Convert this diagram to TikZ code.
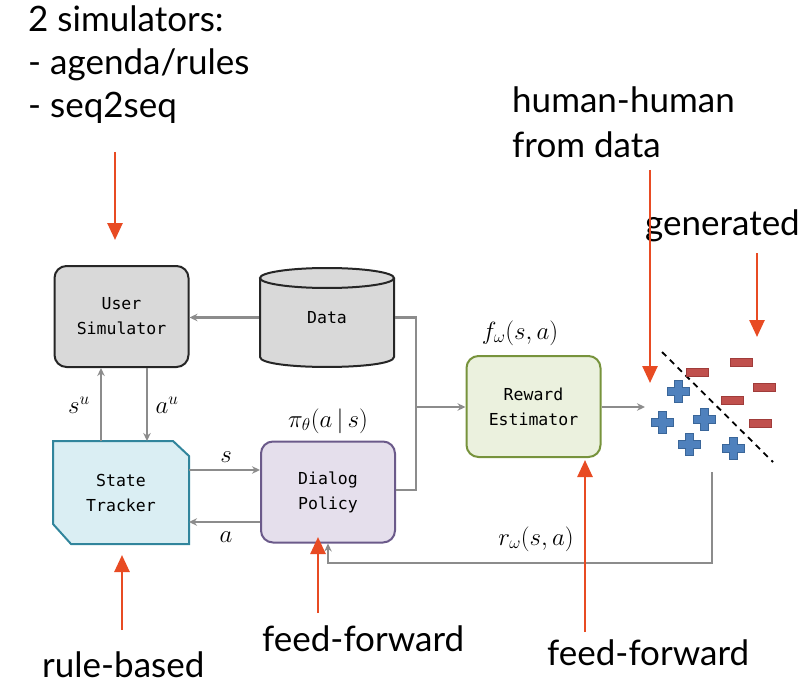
\documentclass[tikz,border=0pt]{standalone}
\usepackage{fontspec}
\setmainfont{Lato}
\newfontfamily\boxfont{DejaVu Sans Mono}
\usetikzlibrary{arrows.meta}
\definecolor{garr}{HTML}{8C8C8C}
\definecolor{redarr}{HTML}{E84B23}
\definecolor{usfill}{HTML}{D9D9D9}
\definecolor{stfill}{HTML}{DAEEF3}
\definecolor{stdraw}{HTML}{31859C}
\definecolor{dpfill}{HTML}{E5DFEC}
\definecolor{dpdraw}{HTML}{6B5A8A}
\definecolor{refill}{HTML}{EBF1DE}
\definecolor{redraw}{HTML}{77933C}
\definecolor{plusfill}{HTML}{4F81BD}
\definecolor{plusdraw}{HTML}{3A6699}
\definecolor{minusfill}{HTML}{C0504D}
\definecolor{minusdraw}{HTML}{A03C3A}
\begin{document}
\begin{tikzpicture}[x=1pt,y=-1pt,
  box/.style={line width=2pt, rounded corners=12pt, minimum width=134pt, minimum height=101pt, align=center, font=\boxfont\fontsize{16.5}{25}\selectfont, inner sep=0pt},
  garrow/.style={draw=garr, line width=2.1pt, -{Stealth[length=8pt,width=7.5pt]}},
  gline/.style={draw=garr, line width=2.1pt},
  rarrow/.style={draw=redarr, line width=2.6pt, -{Triangle[length=17pt,width=15pt]}},
  lbl/.style={font=\fontsize{35}{42}\selectfont, anchor=base west, inner sep=0pt},
  mlbl/.style={font=\fontsize{25}{30}\selectfont, inner sep=0pt},
  plussign/.pic={\filldraw[fill=plusfill, draw=plusdraw, line width=0.8pt]
     (-11,-4)--(-4,-4)--(-4,-11)--(4,-11)--(4,-4)--(11,-4)--(11,4)--(4,4)--(4,11)--(-4,11)--(-4,4)--(-11,4)--cycle;},
  minussign/.pic={\filldraw[fill=minusfill, draw=minusdraw, line width=0.8pt] (-11,-4) rectangle (11,4);}
]
\useasboundingbox (0,0) rectangle (809,682);

% boxes
\node[box, draw=black!85, fill=usfill] (us) at (121.5,316.5) {User\\Simulator};
% data cylinder
\filldraw[fill=usfill, draw=black!85, line width=2pt]
  (260,278) -- (260,357) .. controls (260,370.3) and (394,370.3) .. (394,357) -- (394,278);
\filldraw[fill=usfill, draw=black!85, line width=2pt] (327,278) ellipse [x radius=67, y radius=10];
\node[box, rounded corners=0pt, minimum width=134pt, minimum height=99pt] (data) at (327,317.5) {Data};

% state tracker (chamfered)
\node[box, rounded corners=0pt] (st) at (121,492.5) {};
\filldraw[fill=stfill, draw=stdraw, line width=2pt]
  (st.north west) -- ([xshift=-16pt]st.north east) -- ([yshift=-15pt]st.north east)
  -- (st.south east) -- ([xshift=18pt]st.south west) -- ([yshift=20pt]st.south west) -- cycle;
\node[box] at (st.center) {State\\Tracker};

\node[box, draw=dpdraw, fill=dpfill] (dp) at (328,492) {Dialog\\Policy};
\node[box, draw=redraw, fill=refill] (re) at (533.5,406.5) {Reward\\Estimator};

% gray connectors
\draw[garrow] (data.west) -- (data.west -| us.east);
\draw[garrow] (st.north -| 101,0) -- (us.south -| 101,0);
\draw[garrow] (us.south -| 147,0) -- (st.north -| 147,0);
\draw[garrow] (st.east |- 0,470) -- (dp.west |- 0,470);
\draw[garrow] (dp.west |- 0,522) -- (st.east |- 0,522);
\coordinate (jtop) at (416,317.5);
\coordinate (jbot) at (416,490);
\coordinate (jmid) at (416,407);
\draw[gline] (data.east) -- (jtop) -- (jbot) -- (dp.east |- jbot);
\draw[garrow] (jmid) -- (re.west |- jmid);
\coordinate (cls) at (645,407);
\draw[garrow] (re.east |- cls) -- (cls);
\coordinate (fb) at (712,472);
\draw[garrow] (fb) |- (328,563) -- (dp.south);

% math labels
\node[mlbl] at (79,405) {$s^u$};
\node[mlbl] at (167,405) {$a^u$};
\node[mlbl] at (328,421) {$\pi_\theta(a\,|\,s)$};
\node[mlbl] at (226,457) {$s$};
\node[mlbl] at (226,537) {$a$};
\node[mlbl] at (520,333) {$f_\omega(s,a)$};
\node[mlbl] at (536,539) {$r_\omega(s,a)$};

% classifier picture
\draw[black, line width=1.8pt, dash pattern=on 6pt off 5pt] (662,352) -- (773,462);
\pic at (697,372) {minussign};
\pic at (741,362) {minussign};
\pic at (764,387) {minussign};
\pic at (732,400) {minussign};
\pic at (760,423) {minussign};
\pic at (678,391) {plussign};
\pic at (662,422) {plussign};
\pic at (704,419) {plussign};
\pic at (689,444) {plussign};
\pic at (733,448) {plussign};

% text labels
\node[lbl] (t1) at (28,32) {2 simulators:};
\node[lbl] (t2) at (28,75) {- agenda/rules};
\node[lbl] (t3) at (28,118) {- seq2seq};
\node[lbl] (hh1) at (512,113) {human-human};
\node[lbl] (hh2) at (512,158) {from data};
\node[lbl] (gen) at (645,235) {generated};
\node[lbl] (rb) at (42,677) {rule-based};
\node[lbl] (ff1) at (262,651) {feed-forward};
\node[lbl] (ff2) at (547,665) {feed-forward};

% red arrows
\coordinate (r1s) at (115,152); \coordinate (r1e) at (115,240);
\coordinate (r2s) at (122,630); \coordinate (r2e) at (122,555);
\coordinate (r3s) at (318,613); \coordinate (r3e) at (318,537);
\coordinate (r4s) at (585,632); \coordinate (r4e) at (585,460);
\coordinate (r5s) at (650,170); \coordinate (r5e) at (650,383);
\coordinate (r6s) at (757,253); \coordinate (r6e) at (757,337);
\draw[rarrow] (r1s) -- (r1e);
\draw[rarrow] (r2s) -- (r2e);
\draw[rarrow] (r3s) -- (r3e);
\draw[rarrow] (r4s) -- (r4e);
\draw[rarrow] (r5s) -- (r5e);
\draw[rarrow] (r6s) -- (r6e);
\end{tikzpicture}
\end{document}
